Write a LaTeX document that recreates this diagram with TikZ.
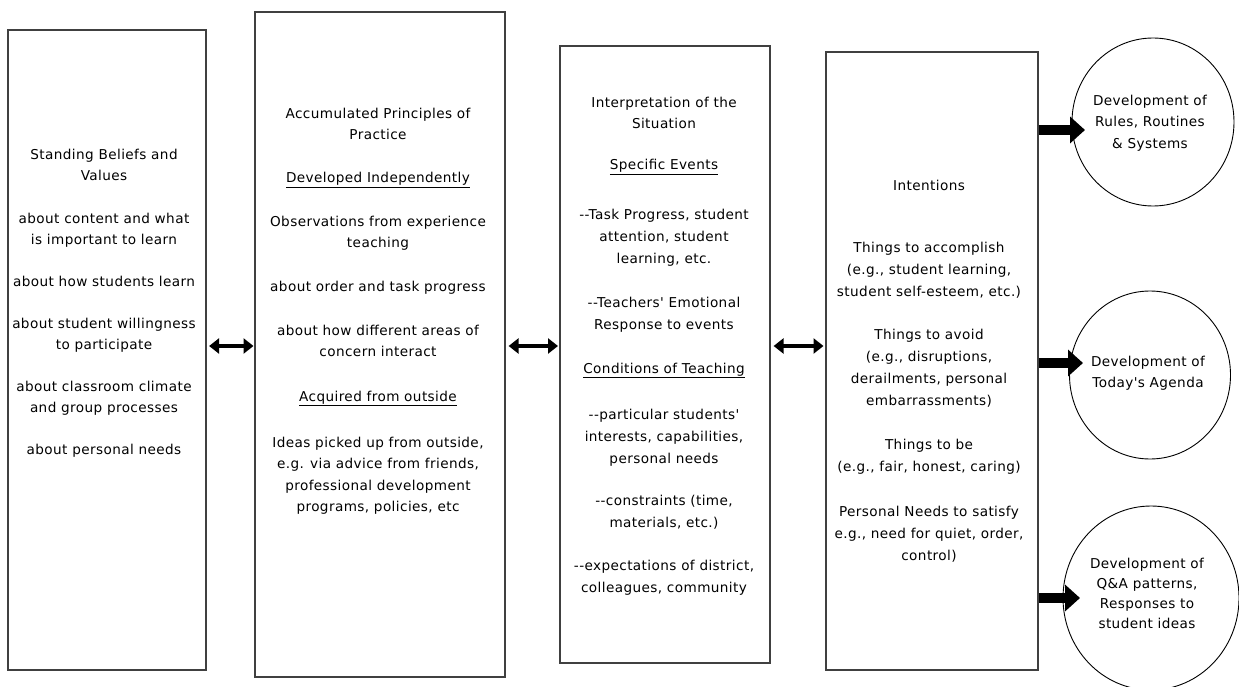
\documentclass[tikz,border=0pt]{standalone}
\usepackage{fontspec}
\setmainfont{DejaVu Sans}[Ligatures=TeXOff,LetterSpace=3]
\usetikzlibrary{arrows.meta,shapes.geometric}
\begin{document}
\begin{tikzpicture}[x=1pt,y=1pt,
  box/.style={draw=black!75,line width=1.6pt,rectangle,inner sep=0pt,anchor=north west},
  ell/.style={draw=black,line width=0.9pt,ellipse,inner sep=0pt},
  txt/.style={font=\fontsize{13.6}{16}\selectfont,inner sep=0pt,anchor=base},
  dbl/.style={line width=4.5pt,{Triangle[width=15pt,length=10pt]}-{Triangle[width=15pt,length=10pt]}},
  fat/.style={line width=10pt,-{Triangle[width=26pt,length=15pt]}}]
\useasboundingbox (0,0) rectangle (1239,-687);
% boxes
\node[box,minimum width=198pt,minimum height=640pt] (b1) at (7,-29) {};
\node[box,minimum width=250pt,minimum height=665pt] (b2) at (254,-11) {};
\node[box,minimum width=210pt,minimum height=617pt] (b3) at (559,-45) {};
\node[box,minimum width=212pt,minimum height=618pt] (b4) at (825,-51) {};
% ellipses
\node[ell,minimum width=162pt,minimum height=168pt] (e1) at (1153,-122) {};
\node[ell,minimum width=161pt,minimum height=168pt] (e2) at (1150,-375) {};
\node[ell,minimum width=176pt,minimum height=184pt] (e3) at (1151,-598) {};
% texts
\foreach \yy/\ss [count=\i] in {160/{Standing Beliefs and},181/{Values},223/{about content and what},244/{is important to learn},286/{about how students learn},328/{about student willingness},349/{to participate},391/{about classroom climate},412/{and group processes},454/{about personal needs}}
  \node[txt] (b1t\i) at (104,-\yy) {\ss};
\foreach \yy/\ss [count=\i] in {119/{Accumulated Principles of},140/{Practice},183/{\underline{Developed Independently}},226/{Observations from experience},247/{teaching},291/{about order and task progress},335/{about how different areas of},356/{concern interact},401/{\underline{Acquired from outside}},447/{Ideas picked up from outside,},468/{e.g. via advice from friends,},490/{professional development},511/{programs, policies, etc}}
  \node[txt] (b2t\i) at (378,-\yy) {\ss};
\foreach \yy/\ss [count=\i] in {108/{Interpretation of the},129/{Situation},170/{\underline{Specific Events}},219/{--Task Progress, student},241/{attention, student},263/{learning, etc.},307/{--Teachers' Emotional},329/{Response to events},373/{\underline{Conditions of Teaching}},419/{--particular students'},441/{interests, capabilities,},463/{personal needs},505/{--constraints (time,},527/{materials, etc.)},570/{--expectations of district,},592/{colleagues, community}}
  \node[txt] (b3t\i) at (664,-\yy) {\ss};
\foreach \yy/\ss [count=\i] in {191/{Intentions},252/{Things to accomplish},274/{(e.g., student learning,},296/{student self-esteem, etc.)},339/{Things to avoid},361/{(e.g., disruptions,},383/{derailments, personal},405/{embarrassments)},449/{Things to be},471/{(e.g., fair, honest, caring)},516/{Personal Needs to satisfy},538/{e.g., need for quiet, order,},560/{control)}}
  \node[txt] (b4t\i) at (929,-\yy) {\ss};
\foreach \yy/\ss [count=\i] in {106/{Development of},127/{Rules, Routines},149/{\& Systems}}
  \node[txt] (e1t\i) at (1150,-\yy) {\ss};
\foreach \yy/\ss [count=\i] in {366/{Development of},387/{Today's Agenda}}
  \node[txt] (e2t\i) at (1148,-\yy) {\ss};
\foreach \yy/\ss [count=\i] in {568/{Development of},588/{Q\&A patterns,},608/{Responses to},628/{student ideas}}
  \node[txt] (e3t\i) at (1147,-\yy) {\ss};
% connectors
\coordinate (m) at (0,-346);
\draw[dbl,shorten <=2.5pt,shorten >=0.5pt] (b1.east |- m) -- (b2.west |- m);
\draw[dbl,shorten <=3pt,shorten >=1pt] (b2.east |- m) -- (b3.west |- m);
\draw[dbl,shorten <=3pt,shorten >=1.5pt] (b3.east |- m) -- (b4.west |- m);
\coordinate (t1) at (1085,-130);
\coordinate (t2) at (1083,-363);
\coordinate (t3) at (1080,-598);
\draw[fat] (b4.east |- t1) -- (t1);
\draw[fat] (b4.east |- t2) -- (t2);
\draw[fat] (b4.east |- t3) -- (t3);
\end{tikzpicture}
\end{document}
